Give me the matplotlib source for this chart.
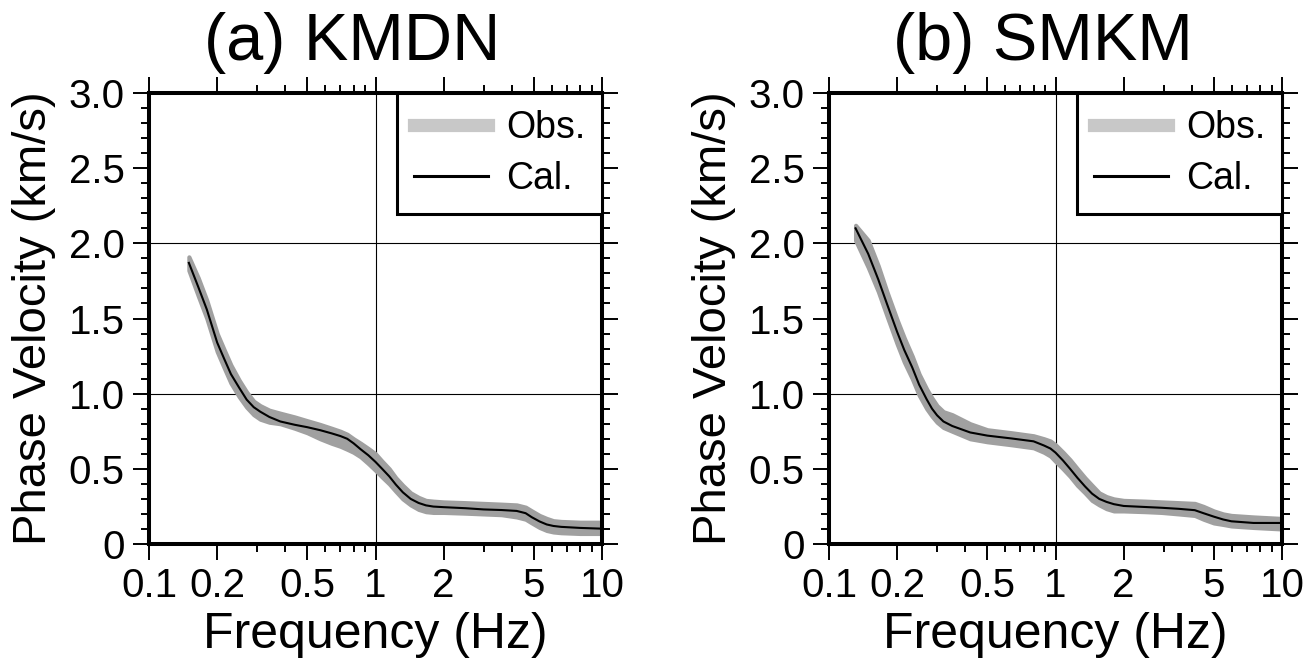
import numpy as np
import matplotlib
matplotlib.use('Agg')
import matplotlib.pyplot as plt
from matplotlib.lines import Line2D
from matplotlib.ticker import FixedLocator, FixedFormatter, NullFormatter

plt.rcParams['font.family'] = ['Liberation Sans', 'DejaVu Sans']

# (a) KMDN
freq_a = [0.15, 0.165, 0.18, 0.2, 0.215, 0.23, 0.25, 0.27, 0.29, 0.31, 0.34, 0.38, 0.44,
          0.5, 0.57, 0.64, 0.7, 0.75, 0.8, 0.86, 0.93, 1.0, 1.07, 1.15, 1.23, 1.32, 1.43,
          1.55, 1.67, 1.8, 2.0, 2.5, 3.0, 3.6, 4.2, 4.6, 4.9, 5.3, 5.7, 6.1, 6.6, 8.0, 10.0]
cal_a = [1.87, 1.71, 1.56, 1.34, 1.23, 1.13, 1.04, 0.96, 0.91, 0.88, 0.845, 0.815, 0.793,
         0.777, 0.757, 0.736, 0.718, 0.70, 0.67, 0.63, 0.59, 0.546, 0.50, 0.45, 0.395, 0.344, 0.30,
         0.273, 0.257, 0.249, 0.245, 0.238, 0.23, 0.226, 0.22, 0.205, 0.178, 0.15, 0.13, 0.12, 0.114, 0.107, 0.102]
obs_lo_a = [1.82, 1.65, 1.50, 1.28, 1.17, 1.07, 0.98, 0.91, 0.86, 0.83, 0.81, 0.80, 0.77,
            0.74, 0.70, 0.67, 0.65, 0.63, 0.61, 0.58, 0.535, 0.49, 0.445, 0.40, 0.35, 0.30, 0.26,
            0.23, 0.215, 0.21, 0.21, 0.205, 0.20, 0.195, 0.18, 0.165, 0.14, 0.11, 0.09, 0.08, 0.075, 0.07, 0.07]
obs_hi_a = [1.91, 1.77, 1.62, 1.40, 1.29, 1.19, 1.09, 1.01, 0.95, 0.92, 0.89, 0.87, 0.845,
            0.82, 0.795, 0.77, 0.75, 0.73, 0.70, 0.67, 0.635, 0.60, 0.55, 0.50, 0.44, 0.39, 0.34,
            0.31, 0.29, 0.285, 0.28, 0.275, 0.27, 0.265, 0.26, 0.245, 0.22, 0.19, 0.17, 0.155, 0.15, 0.145, 0.145]

# (b) SMKM
freq_b = [0.131, 0.149, 0.165, 0.18, 0.2, 0.215, 0.233, 0.25, 0.27, 0.285, 0.30, 0.32, 0.35,
          0.42, 0.5, 0.64, 0.8, 0.89, 0.95, 1.0, 1.08, 1.16, 1.25, 1.35, 1.45, 1.56, 1.68,
          1.81, 2.0, 2.5, 2.94, 3.5, 4.12, 4.5, 5.0, 5.5, 5.98, 7.48, 10.0]
cal_b = [2.10, 1.93, 1.76, 1.60, 1.41, 1.29, 1.175, 1.06, 0.962, 0.90, 0.856, 0.815, 0.785,
         0.742, 0.721, 0.702, 0.683, 0.655, 0.635, 0.608, 0.555, 0.50, 0.44, 0.383, 0.335, 0.30, 0.28,
         0.265, 0.253, 0.246, 0.241, 0.234, 0.225, 0.205, 0.182, 0.163, 0.151, 0.14, 0.14]
obs_lo_b = [2.02, 1.84, 1.68, 1.52, 1.33, 1.21, 1.10, 0.99, 0.90, 0.85, 0.81, 0.775, 0.75,
            0.70, 0.68, 0.66, 0.64, 0.61, 0.585, 0.55, 0.50, 0.45, 0.39, 0.34, 0.29, 0.26, 0.235,
            0.22, 0.22, 0.215, 0.21, 0.20, 0.19, 0.165, 0.14, 0.13, 0.12, 0.11, 0.10]
obs_hi_b = [2.12, 2.02, 1.85, 1.68, 1.49, 1.37, 1.25, 1.13, 1.03, 0.97, 0.92, 0.88, 0.86,
            0.80, 0.76, 0.74, 0.72, 0.70, 0.685, 0.66, 0.61, 0.56, 0.50, 0.44, 0.39, 0.34, 0.315,
            0.30, 0.29, 0.285, 0.28, 0.275, 0.27, 0.25, 0.22, 0.20, 0.19, 0.18, 0.17]

titles = ['(a) KMDN', '(b) SMKM']
x_major = [0.1, 0.2, 0.5, 1, 2, 5, 10]
x_major_labels = ['0.1', '0.2', '0.5', '1', '2', '5', '10']
x_minor = [0.3, 0.4, 0.6, 0.7, 0.8, 0.9, 3, 4, 6, 7, 8, 9]
y_major = [0, 0.5, 1.0, 1.5, 2.0, 2.5, 3.0]
y_major_labels = ['0', '0.5', '1.0', '1.5', '2.0', '2.5', '3.0']
y_minor = [i / 10 for i in range(31)]

W, H = 1316, 666
fig = plt.figure(figsize=(W / 100, H / 100), dpi=100)

panels = [(149, 352, freq_a, cal_a, obs_lo_a, obs_hi_a),
          (829, 1043, freq_b, cal_b, obs_lo_b, obs_hi_b)]

for k, (left, title_x, f, cal, lo, hi) in enumerate(panels):
    ax = fig.add_axes([left / W, (H - 544) / H, 453 / W, 451 / H])
    ax.set_xscale('log')
    ax.set_xlim(0.1, 10)
    ax.set_ylim(0, 3)

    ax.fill_between(f, lo, hi, facecolor='#a0a0a0', edgecolor='#a0a0a0',
                    lw=3, zorder=2)
    ax.plot(f, cal, color='black', lw=1.5, zorder=3)

    ax.axvline(1, color='black', lw=0.8, zorder=1)
    for gy in [1, 2]:
        ax.axhline(gy, color='black', lw=0.8, zorder=1)

    ax.xaxis.set_major_locator(FixedLocator(x_major))
    ax.xaxis.set_major_formatter(FixedFormatter(x_major_labels))
    ax.xaxis.set_minor_locator(FixedLocator(x_minor))
    ax.xaxis.set_minor_formatter(NullFormatter())
    ax.yaxis.set_major_locator(FixedLocator(y_major))
    ax.yaxis.set_major_formatter(FixedFormatter(y_major_labels))
    ax.yaxis.set_minor_locator(FixedLocator(y_minor))

    ax.tick_params(which='both', direction='out', top=True, right=True,
                   width=1.4, labelsize=29, color='black')
    ax.tick_params(which='major', length=11.5)
    ax.tick_params(which='minor', length=5.8)
    ax.tick_params(axis='x', which='major', pad=5)
    ax.tick_params(axis='y', which='major', pad=6)
    for sp in ax.spines.values():
        sp.set_linewidth(2.9)
        sp.set_zorder(5)

    ax.set_xlabel('Frequency (Hz)', fontsize=36)
    ax.xaxis.set_label_coords(0.5, -0.15)
    ax.set_ylabel('Phase Velocity (km/s)', fontsize=34)
    ax.yaxis.set_label_coords(-93 / 453, 0.5)

    fig.text(title_x / W, (H - 60) / H, titles[k], fontsize=48,
             ha='center', va='baseline')

    handles = [Line2D([], [], color='#c8c8c8', lw=9.5),
               Line2D([], [], color='black', lw=2.2)]
    leg = ax.legend(handles, ['Obs.', 'Cal.'], loc='upper right',
                    bbox_to_anchor=(1, 1), borderaxespad=0, fontsize=27,
                    fancybox=False, framealpha=1, edgecolor='black',
                    handlelength=1.97, handletextpad=0.48, labelspacing=0.4,
                    borderpad=0.45)
    leg.get_frame().set_linewidth(2.2)
    leg.set_zorder(6)

fig.savefig('out.png', dpi=100)
